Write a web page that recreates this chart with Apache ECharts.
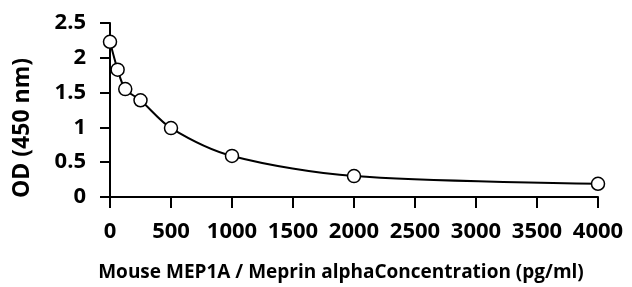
<!DOCTYPE html>
<html><head><meta charset="utf-8">
<script src="https://cdn.jsdelivr.net/npm/echarts@6/dist/echarts.min.js"></script>
<style>html,body{margin:0;padding:0;background:#fff}#c{width:632px;height:287px}</style>
</head><body><div id="c"></div>
<script>
const concentrations = [0, 62.5, 125, 250, 500, 1000, 2000, 4000];
const odValues = [2.23, 1.83, 1.55, 1.39, 0.99, 0.59, 0.30, 0.19];
const xTitle = 'Mouse MEP1A / Meprin alphaConcentration (pg/ml)';
const yTitle = 'OD (450 nm)';
const pts = concentrations.map((c, i) => [c, odValues[i]]);
const FONT = 'Open Sans';
const chart = echarts.init(document.getElementById('c'), null, {renderer: 'canvas'});
chart.setOption({
  animation: false,
  backgroundColor: '#fff',
  grid: {left: 110, right: 34, top: 23, bottom: 90},
  xAxis: {
    type: 'value', min: 0, max: 4000, interval: 500,
    splitLine: {show: false},
    axisLine: {lineStyle: {color: '#000', width: 2}},
    axisTick: {length: 11, lineStyle: {color: '#000', width: 2}},
    axisLabel: {color: '#000', fontFamily: FONT, fontWeight: 'bold', fontSize: 22, margin: 24,
      formatter: v => String(v)},
    name: xTitle, nameLocation: 'middle', nameGap: 66,
    nameTextStyle: {color: '#000', fontFamily: FONT, fontWeight: 'bold', fontSize: 19, padding: [0, 26, 0, 0]}
  },
  yAxis: {
    type: 'value', min: 0, max: 2.5, interval: 0.5,
    splitLine: {show: false},
    axisLine: {show: true, lineStyle: {color: '#000', width: 2}},
    axisTick: {show: true, length: 10, lineStyle: {color: '#000', width: 2}},
    axisLabel: {color: '#000', fontFamily: FONT, fontWeight: 'bold', fontSize: 22, margin: 24,
      formatter: v => String(v)},
    name: yTitle, nameLocation: 'middle', nameGap: 76,
    nameTextStyle: {color: '#000', fontFamily: FONT, fontWeight: 'bold', fontSize: 23, padding: [0, 36, 0, 0]}
  },
  series: [{
    type: 'line', data: pts, smooth: 0.3,
    symbol: 'circle', symbolSize: 13,
    lineStyle: {color: '#000', width: 2},
    itemStyle: {color: '#fff', borderColor: '#000', borderWidth: 1.5}
  }]
});
</script></body></html>
